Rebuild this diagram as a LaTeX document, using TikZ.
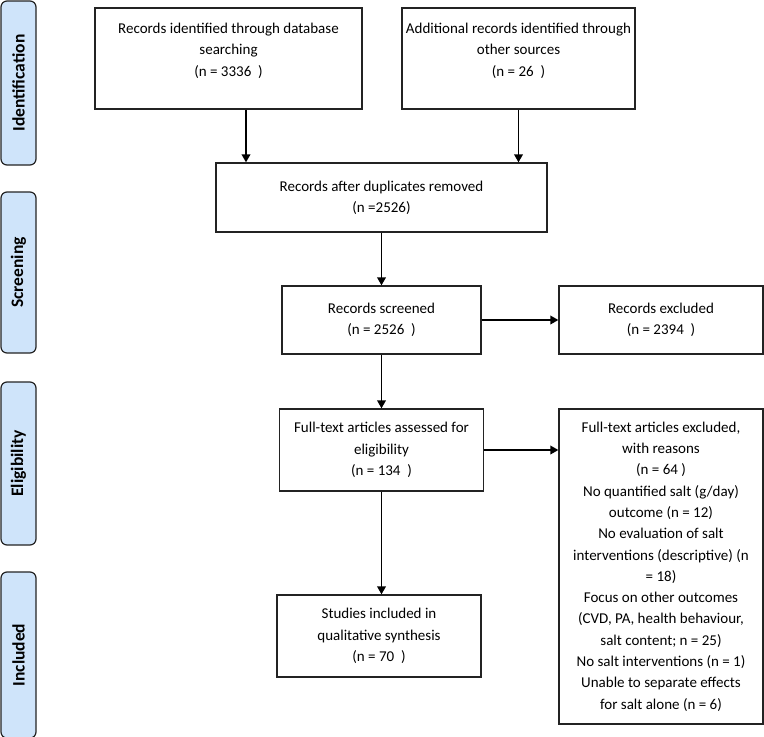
\documentclass[tikz,border=0pt]{standalone}
\usepackage{graphicx}
\usepackage{fontspec}
\setmainfont{Carlito}
\usetikzlibrary{arrows.meta,calc}
\definecolor{sidefill}{RGB}{207,228,250}
\definecolor{boxline}{RGB}{35,35,35}
\begin{document}
\begin{tikzpicture}[x=1pt,y=-1pt,
  box/.style={draw=boxline, line width=1.2pt, rectangle, align=center, inner sep=2pt,
    font=\fontsize{15}{21.3}\selectfont},
  side/.style={draw=boxline, fill=sidefill, line width=1.2pt, rounded corners=6pt,
    minimum width=35pt, inner sep=0pt, font=\fontsize{17.5}{20}\selectfont\bfseries},
  arr/.style={line width=1.8pt, -{Triangle[length=8pt,width=8.5pt]}}]
\useasboundingbox (0,0) rectangle (764,737);
\clip (0,0) rectangle (764,737);

% side labels
\node[side, minimum height=164pt] (sid) at (18.5,83) {\rotatebox{90}{Identification}};
\node[side, minimum height=161pt] (ssc) at (18.5,272.5) {\rotatebox{90}{Screening}};
\node[side, minimum height=163pt] (sel) at (18.5,463.5) {\rotatebox{90}{Eligibility}};
\node[side, minimum height=166pt] (sin) at (18.5,655) {\rotatebox{90}{Included}};

% boxes
\node[box, minimum width=267pt, minimum height=101pt, text depth=18pt] (b1) at (228.5,58.5)
  {Records identified through database\\searching\\(n = 3336\ \ )};
\node[box, minimum width=233pt, minimum height=101pt, text depth=18pt] (b2) at (518.5,58.5)
  {Additional records identified through\\other sources\\(n = 26\ \ )};
\node[box, minimum width=331pt, minimum height=69pt] (b3) at (381.5,197.5)
  {Records after duplicates removed\\(n =2526)};
\node[box, minimum width=199pt, minimum height=68pt] (b4) at (381.5,320)
  {Records screened\\(n = 2526\ \ )};
\node[box, minimum width=204pt, minimum height=68pt] (b5) at (661,320)
  {Records excluded\\(n = 2394\ \ )};
\node[box, minimum width=204pt, minimum height=82pt] (b6) at (381.5,450)
  {Full-text articles assessed for\\eligibility\\(n = 134\ \ )};
\node[box, minimum width=204pt, minimum height=315pt] (b7) at (661,566.5)
  {Full-text articles excluded,\\with reasons\\(n = 64 )\\No quantified salt (g/day)\\outcome (n = 12)\\No evaluation of salt\\interventions (descriptive) (n\\= 18)\\Focus on other outcomes\\(CVD, PA, health behaviour,\\salt content; n = 25)\\No salt interventions (n = 1)\\Unable to separate effects\\for salt alone (n = 6)};
\node[box, minimum width=204pt, minimum height=82pt] (b8) at (379,636)
  {Studies included in\\qualitative synthesis\\(n = 70\ \ )};

% connectors
\draw[arr] ([xshift=17.5pt]b1.south) -- ([xshift=17.5pt]b1.south |- b3.north);
\draw[arr] (b2.south) -- (b2.south |- b3.north);
\draw[arr] (b3.south) -- (b4.north);
\draw[arr] (b4.east) -- (b5.west);
\draw[arr] (b4.south) -- (b6.north);
\draw[arr] (b6.east) -- (b6.east -| b7.west);
\draw[arr] (b6.south) -- (b6.south |- b8.north);
\end{tikzpicture}
\end{document}
